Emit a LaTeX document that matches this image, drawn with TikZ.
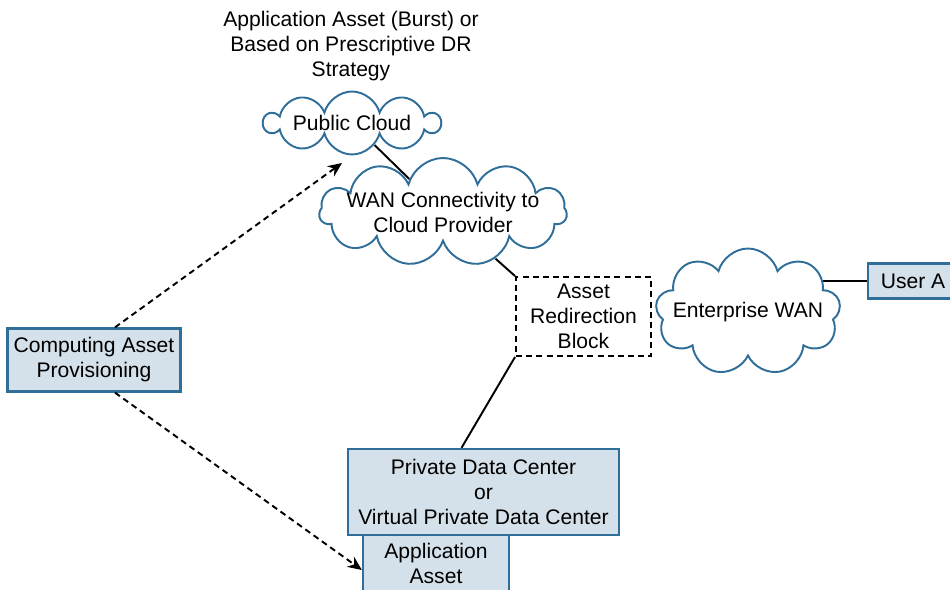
\documentclass[tikz,border=0pt]{standalone}
\usepackage{fontspec}
\setmainfont{Liberation Sans}
\usetikzlibrary{shapes.symbols,arrows.meta,backgrounds}
\definecolor{boxfill}{HTML}{D4E1EA}
\definecolor{boxline}{HTML}{2E6E99}
\tikzset{
  every node/.style={font=\fontsize{12}{14.2}\selectfont, text=black},
  bluebox/.style={draw=boxline, fill=boxfill, line width=1.3pt, rectangle, align=center, inner sep=0pt},
  cloudnode/.style={draw=boxline, fill=white, line width=1.1pt, cloud, cloud ignores aspect, align=center, inner sep=0pt},
  cloudtext/.style={label={[align=center]center:#1}},
  dashbox/.style={draw=black, fill=white, line width=1.1pt, dash pattern=on 3.4pt off 2.4pt, rectangle, align=center, inner sep=0pt},
  link/.style={draw=black, line width=1.1pt},
  dasharrow/.style={draw=black, line width=1.1pt, dash pattern=on 3.4pt off 2.4pt, -{Stealth[length=8pt,width=7pt]}},
}
\begin{document}
\begin{tikzpicture}[x=0.02cm,y=-0.02cm]
\useasboundingbox (0,0) rectangle (950,590);
\node (title) at (351,46) [align=center] {Application Asset (Burst) or\\Based on Prescriptive DR\\Strategy};
\node[cloudnode, cloud puffs=10, minimum width=3.5cm, minimum height=1.26cm] (pc) at (352,123) {Public Cloud};
\node[cloudnode, cloud puffs=11, minimum width=4.95cm, minimum height=2.16cm, cloudtext={WAN Connectivity to\\Cloud Provider}] (wan) at (443,212) {};
\node[dashbox, minimum width=2.7cm, minimum height=1.58cm] (arb) at (583.5,316.5) {Asset\\Redirection\\Block};
\node[cloudnode, cloud puffs=9, minimum width=3.7cm, minimum height=2.54cm, cloudtext={Enterprise WAN}] (ewan) at (748,312) {};
\node[bluebox, minimum width=1.8cm, minimum height=0.7cm] (ua) at (913,281) {User A};
\node[bluebox, minimum width=3.46cm, minimum height=1.26cm] (cap) at (94,360) {Computing Asset\\Provisioning};
\node[bluebox, minimum width=2.92cm, minimum height=1.12cm] (aa) at (436,563) {Application\\Asset};
\node[bluebox, minimum width=5.42cm, minimum height=1.72cm] (pdc) at (483.5,492) {Private Data Center\\or\\Virtual Private Data Center};
\coordinate (pcin) at (342,163);
\begin{scope}[on background layer]
  \draw[link] (pc) -- (wan);
  \draw[link] (wan) -- (arb.north west);
  \draw[link] (arb.south west) -- ([xshift=-0.44cm]pdc.north);
  \draw[link] (ua.west) -- (ua.west -| ewan.center);
\end{scope}
\draw[dasharrow] ([xshift=0.42cm]cap.north) -- (pcin);
\draw[dasharrow] ([xshift=0.42cm]cap.south) -- ([yshift=-0.14cm]aa.west);
\end{tikzpicture}
\end{document}
